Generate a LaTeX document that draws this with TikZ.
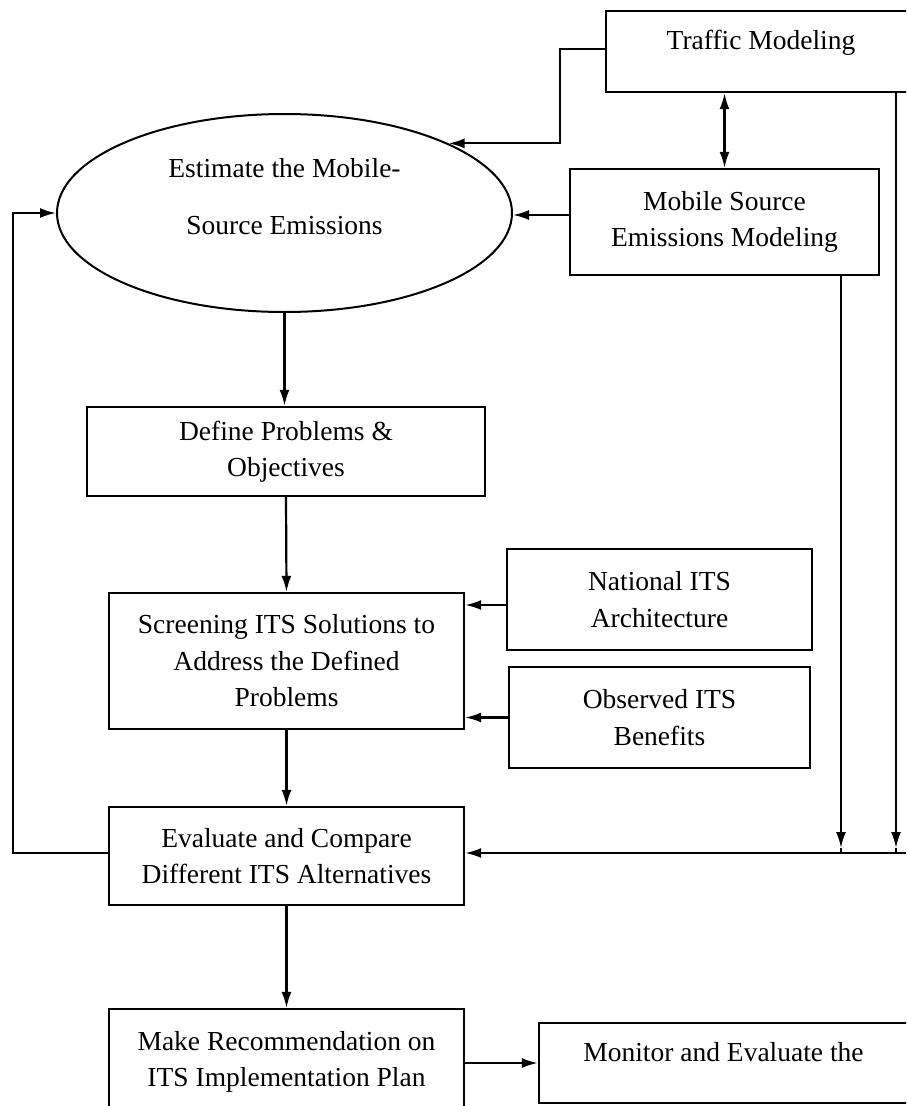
\documentclass[tikz,border=0pt]{standalone}
\usepackage{fontspec}
\setmainfont{Liberation Serif}
\usetikzlibrary{arrows.meta,shapes.geometric}

\begin{document}
\begin{tikzpicture}[x=1pt,y=-1pt,
  every node/.style={font=\fontsize{27.5}{36.5}\selectfont, align=center, inner sep=0pt},
  box/.style={draw, line width=2.3pt, rectangle},
  oval/.style={draw, line width=2pt, ellipse},
  tipshape/.tip={Latex[length=16pt,width=10pt]},
  arr/.style={line width=2.2pt, -tipshape},
  arrtwo/.style={line width=2.2pt, tipshape-tipshape},
  link/.style={line width=2.2pt}
]
\useasboundingbox (0,0) rectangle (906,1106);
\fill[white] (0,0) rectangle (906,1106);
\clip (0,0) rectangle (906,1106);

% boxes
\node[box, minimum width=310pt, minimum height=81pt,
      label={[yshift=8.5pt]center:Traffic Modeling}] (tm) at (761,51.5) {};
\node[box, minimum width=309pt, minimum height=106pt] (ms) at (724.5,222)
  {Mobile Source\\Emissions Modeling};
\node[oval, minimum width=455pt, minimum height=198pt,
      label={[yshift=16.5pt, align=center]center:Estimate the Mobile-\\[20pt]Source Emissions}] (ell) at (284.5,213) {};
\node[box, minimum width=398pt, minimum height=89pt] (dp) at (286,451.5)
  {Define Problems \&\\Objectives};
\node[box, minimum width=355pt, minimum height=136pt] (sc) at (286.5,661)
  {Screening ITS Solutions to\\Address the Defined\\Problems};
\node[box, minimum width=305pt, minimum height=101pt] (na) at (659.5,599.5)
  {National ITS\\Architecture};
\node[box, minimum width=301pt, minimum height=101pt] (ob) at (659.5,717.5)
  {Observed ITS\\Benefits};
\node[box, minimum width=355pt, minimum height=98pt] (ev) at (286.5,856)
  {Evaluate and Compare\\Different ITS Alternatives};
\node[box, minimum width=355pt, minimum height=106pt] (mk) at (286.5,1062)
  {Make Recommendation on\\ITS Implementation Plan};
\node[box, minimum width=377pt, minimum height=80pt,
      label={[xshift=-4pt,yshift=11pt]center:Monitor and Evaluate the}] (mo) at (727.5,1063) {};

% junction points
\coordinate (bendtm) at (560,49);
\coordinate (jms) at (841,853);
\coordinate (jtm) at (896,853);
\coordinate (redge) at (906,853);
\coordinate (lp) at (13,853);

% connectors
\draw[arr] (tm.west |- bendtm) -- (bendtm) |- (ell.23.5);
\draw[arrtwo] (tm.south -| ms.north) -- (ms.north);
\draw[arr] ([yshift=7pt]ms.west) -- ([yshift=-2pt]ell.east);
\draw[arr] (ell.south) -- (ell.south |- dp.north);
\draw[arr] (dp.south) -- (sc.north);
\draw[arr] (na.west |- 0,605) -- (sc.east |- 0,605);
\draw[arr] (ob.west) -- (sc.east |- ob.west);
\draw[arr] (sc.south) -- (ev.north);
\draw[arr] (ev.south) -- (mk.north);
\draw[arr] (mk.east |- mo.west) -- (mo.west);

\draw[arr] (ms.south -| jms) -- ([yshift=5pt]jms);
\draw[link] ([yshift=5pt]jms) -- (jms);
\draw[arr] (tm.south -| jtm) -- ([yshift=5pt]jtm);
\draw[link] ([yshift=5pt]jtm) -- (jtm);
\draw[arr] (redge) -- (ev.east |- redge);
\draw[arr] (ev.west |- lp) -- (lp) |- (ell.west);
\end{tikzpicture}
\end{document}
